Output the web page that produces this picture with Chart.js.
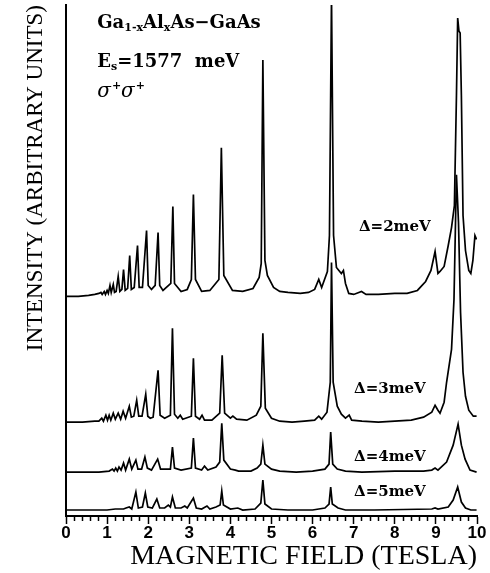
<!DOCTYPE html>
<html lang="en">
<head>
    <meta charset="UTF-8">
    <title>Ga1-xAlxAs-GaAs spectra vs magnetic field</title>
    <script src="https://cdn.jsdelivr.net/npm/chart.js"></script>
    <style>
        html, body { margin: 0; padding: 0; background: #fff; }
        #chart-box { width: 490px; height: 573px; }
    </style>
</head>
<body>
    <div id="chart-box">
        <canvas id="spectraChart" width="490" height="573"></canvas>
    </div>

    <script>
        // Field (tesla) and signal (arbitrary units, above each trace's own baseline)
        const field2 = [0.00, 0.30, 0.55, 0.70, 0.80, 0.85, 0.88, 0.93, 0.96, 1.00,
            1.03, 1.07, 1.10, 1.15, 1.18, 1.22, 1.27, 1.31, 1.36, 1.40,
            1.44, 1.50, 1.55, 1.59, 1.66, 1.74, 1.78, 1.86, 1.96, 2.00,
            2.08, 2.17, 2.24, 2.28, 2.36, 2.55, 2.60, 2.64, 2.80, 2.95,
            3.05, 3.10, 3.15, 3.30, 3.50, 3.72, 3.78, 3.84, 4.05, 4.30,
            4.55, 4.70, 4.75, 4.79, 4.84, 4.90, 5.05, 5.20, 5.40, 5.70,
            5.90, 6.05, 6.15, 6.22, 6.36, 6.41, 6.46, 6.51, 6.58, 6.70,
            6.75, 6.80, 6.88, 7.00, 7.19, 7.30, 7.60, 8.00, 8.30, 8.55,
            8.75, 8.88, 8.98, 9.05, 9.10, 9.20, 9.30, 9.38, 9.45, 9.50,
            9.53, 9.56, 9.59, 9.62, 9.66, 9.72, 9.80, 9.85, 9.90, 9.95,
            9.99];
        const signal2 = [-1, -1, 0, 1, 2, 3, 1, 4, 1, 5,
            2, 10, 3, 11, 3, 4, 19, 4, 6, 26,
            5, 7, 40, 6, 8, 50, 8, 8, 65, 10,
            6, 10, 63, 10, 5, 12, 89, 12, 4, 6,
            16, 101, 16, 4, 5, 16, 148, 20, 5, 4,
            7, 18, 32, 236, 35, 20, 8, 4, 3, 2,
            3, 6, 16, 8, 24, 60, 300, 60, 28, 22,
            25, 12, 2, 1, 4, 1, 1, 2, 2, 5,
            14, 25, 44, 22, 24, 29, 50, 68, 90, 200,
            278, 265, 263, 200, 80, 45, 25, 22, 35, 60,
            56];

        const field3 = [0.00, 0.40, 0.70, 0.80, 0.87, 0.91, 0.97, 1.01, 1.05, 1.09,
            1.15, 1.20, 1.27, 1.33, 1.39, 1.45, 1.54, 1.59, 1.65, 1.72,
            1.77, 1.85, 1.94, 1.99, 2.05, 2.12, 2.24, 2.29, 2.40, 2.54,
            2.59, 2.64, 2.72, 2.78, 2.84, 3.05, 3.10, 3.15, 3.25, 3.31,
            3.37, 3.55, 3.74, 3.80, 3.86, 4.00, 4.06, 4.15, 4.40, 4.63,
            4.74, 4.79, 4.85, 5.00, 5.20, 5.50, 5.80, 6.05, 6.15, 6.22,
            6.35, 6.43, 6.46, 6.50, 6.60, 6.70, 6.80, 6.89, 6.95, 7.20,
            7.60, 8.00, 8.40, 8.70, 8.90, 8.98, 9.05, 9.10, 9.20, 9.26,
            9.38, 9.44, 9.50, 9.55, 9.60, 9.66, 9.72, 9.80, 9.91, 9.99];
        const signal3 = [0, 0, 1, 1, 4, 1, 7, 2, 7, 2,
            9, 3, 9, 3, 11, 4, 16, 5, 6, 22,
            6, 6, 28, 6, 4, 5, 52, 7, 4, 7,
            94, 8, 4, 7, 3, 6, 64, 6, 3, 7,
            2, 2, 9, 67, 9, 4, 6, 3, 2, 7,
            16, 89, 14, 4, 1, 0, 1, 2, 6, 3,
            10, 40, 160, 40, 16, 8, 4, 7, 2, 1,
            0, 1, 2, 5, 10, 17, 12, 9, 20, 40,
            73, 123, 248, 200, 110, 50, 26, 12, 6, 6];

        const field4 = [0.00, 0.80, 1.05, 1.13, 1.17, 1.21, 1.25, 1.29, 1.34, 1.40,
            1.45, 1.54, 1.60, 1.70, 1.75, 1.84, 1.92, 1.98, 2.08, 2.23,
            2.30, 2.54, 2.59, 2.64, 2.80, 3.05, 3.10, 3.15, 3.30, 3.37,
            3.45, 3.65, 3.74, 3.79, 3.84, 4.00, 4.12, 4.20, 4.50, 4.65,
            4.74, 4.79, 4.84, 5.00, 5.20, 5.60, 6.00, 6.30, 6.40, 6.44,
            6.49, 6.60, 6.80, 7.20, 8.00, 8.70, 8.90, 8.98, 9.05, 9.26,
            9.42, 9.54, 9.62, 9.71, 9.83, 9.99];
        const signal4 = [0, 0, 1, 3, 1, 4, 1, 5, 2, 9,
            2, 13, 3, 12, 3, 3, 15, 4, 2, 13,
            3, 3, 25, 4, 2, 4, 34, 4, 2, 6,
            2, 5, 10, 49, 12, 3, 2, 1, 1, 4,
            8, 27, 8, 3, 1, 0, 1, 3, 8, 40,
            8, 3, 1, 0, 1, 1, 2, 4, 2, 10,
            27, 48, 27, 13, 2, 0];

        const field5 = [0.00, 1.00, 1.20, 1.30, 1.40, 1.46, 1.54, 1.60, 1.70, 1.76,
            1.86, 1.93, 1.99, 2.10, 2.21, 2.28, 2.40, 2.49, 2.54, 2.59,
            2.66, 2.80, 2.89, 2.95, 3.10, 3.17, 3.30, 3.43, 3.50, 3.65,
            3.75, 3.79, 3.83, 4.00, 4.18, 4.30, 4.60, 4.74, 4.79, 4.84,
            5.00, 5.40, 6.00, 6.30, 6.40, 6.44, 6.48, 6.62, 6.80, 7.50,
            8.90, 8.98, 9.05, 9.30, 9.42, 9.53, 9.62, 9.72, 9.85, 9.99];
        const signal5 = [0, 0, 1, 1, 1, 2, 3, 1, 18, 2,
            3, 17, 3, 2, 11, 2, 2, 5, 3, 13,
            2, 2, 4, 2, 12, 2, 1, 4, 1, 3,
            5, 19, 5, 1, 2, 0, 1, 7, 30, 6,
            1, 0, 0, 2, 6, 23, 6, 2, 0, 0,
            1, 2, 1, 3, 10, 23, 8, 2, 0, 0];

        // Vertical shift of each trace in the stack
        const traceOffsets = [221, 94, 44, 6];
        const deltaLabels = ['\u0394=2meV', '\u0394=3meV', '\u0394=4meV', '\u0394=5meV'];

        // Where the labels sit, in axis units (tesla, intensity)
        const labelSpots = [[8.0, 289], [7.88, 127], [7.88, 59], [7.88, 24]];
        const sampleSpot = [0.76, [494, 455, 425]];
        // text pieces: 0 = normal, 1 = subscript, -1 = superscript, 2 = italic
        const sampleLines = [
            [['Ga', 0], ['1-x', 1], ['Al', 0], ['x', 1], ['As\u2212GaAs', 0]],
            [['E', 0], ['s', 1], ['=1577  meV', 0]],
            [['\u03c3', 2], ['+', -1], ['\u03c3', 2], ['+', -1]]
        ];

        const traceFields = [field2, field3, field4, field5];
        const traceSignals = [signal2, signal3, signal4, signal5];

        const isWhole = v => Math.abs(v - Math.round(v)) < 1e-6;

        const notesPlugin = {
            id: 'notes',
            afterDatasetsDraw(chart) {
                const { ctx, scales: { x, y } } = chart;
                ctx.save();
                ctx.fillStyle = '#000';
                ctx.textBaseline = 'middle';

                // delta labels beside each trace
                ctx.textAlign = 'center';
                ctx.font = 'bold 15px "DejaVu Serif"';
                deltaLabels.forEach((txt, i) => {
                    ctx.fillText(txt, x.getPixelForValue(labelSpots[i][0]), y.getPixelForValue(labelSpots[i][1]));
                });

                // sample description in the top left corner
                ctx.textAlign = 'left';
                sampleLines.forEach((pieces, row) => {
                    let px = x.getPixelForValue(sampleSpot[0]);
                    const py = y.getPixelForValue(sampleSpot[1][row]);
                    pieces.forEach(([txt, kind]) => {
                        let dy = 0;
                        if (kind === 0) ctx.font = 'bold 18px "DejaVu Serif"';
                        if (kind === 1) { ctx.font = 'bold 11px "DejaVu Serif"'; dy = 5; }
                        if (kind === -1) { ctx.font = 'bold 11px "DejaVu Serif"'; dy = -6; }
                        if (kind === 2) ctx.font = 'italic 20px "DejaVu Serif"';
                        ctx.fillText(txt, px, py + dy);
                        px += ctx.measureText(txt).width + (kind === 2 ? 1 : 0);
                    });
                });
                ctx.restore();
            }
        };

        const datasets = deltaLabels.map((label, i) => ({
            label: label,
            data: traceFields[i].map((b, k) => ({ x: b, y: traceSignals[i][k] + traceOffsets[i] })),
            borderColor: '#000',
            borderWidth: 1.7,
            pointRadius: 0,
            fill: false,
            tension: 0
        }));

        const ctx = document.getElementById('spectraChart').getContext('2d');
        const spectraChart = new Chart(ctx, {
            type: 'line',
            data: { datasets: datasets },
            options: {
                responsive: false,
                animation: false,
                layout: { padding: { top: 5, right: 13, bottom: 2, left: 24 } },
                plugins: {
                    legend: { display: false },
                    tooltip: { enabled: false }
                },
                scales: {
                    x: {
                        type: 'linear',
                        min: 0,
                        max: 10,
                        ticks: {
                            stepSize: 0.2,
                            autoSkip: false,
                            maxRotation: 0,
                            padding: 1,
                            color: '#000',
                            font: { family: 'Liberation Sans', size: 17, weight: 'bold', lineHeight: 1 },
                            callback: v => isWhole(v) ? String(Math.round(v)) : ''
                        },
                        grid: {
                            drawOnChartArea: false,
                            tickLength: 8,
                            tickWidth: 1.5,
                            tickColor: '#000',
                            tickBorderDash: c => (c.tick && !isWhole(c.tick.value)) ? [4, 20] : []
                        },
                        border: { display: true, color: '#000', width: 2 },
                        title: {
                            display: true,
                            text: 'MAGNETIC FIELD (TESLA)',
                            align: 'end',
                            color: '#000',
                            font: { family: 'Liberation Serif', size: 28, lineHeight: 1 },
                            padding: 0
                        }
                    },
                    y: {
                        min: 0,
                        max: 512,
                        ticks: { display: false },
                        grid: { display: false, drawTicks: false },
                        border: { display: true, color: '#000', width: 2 },
                        title: {
                            display: true,
                            text: 'INTENSITY (ARBITRARY UNITS)',
                            align: 'end',
                            color: '#000',
                            font: { family: 'Liberation Serif', size: 23, lineHeight: 1 },
                            padding: { top: 0, bottom: 19 }
                        }
                    }
                }
            },
            plugins: [notesPlugin]
        });
    </script>
</body>
</html>
